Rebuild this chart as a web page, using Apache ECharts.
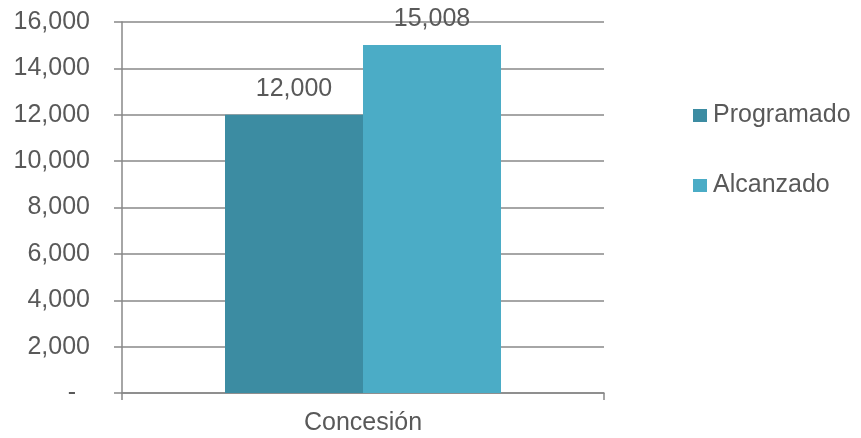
<!DOCTYPE html>
<html><head><meta charset="utf-8">
<script src="https://cdn.jsdelivr.net/npm/echarts@6/dist/echarts.min.js"></script>
<style>html,body{margin:0;padding:0;background:#fff}#c{width:861px;height:438px}</style>
</head><body><div id="c"></div>
<script>
const categories = ['Concesión'];
const programado = [12000];
const alcanzado = [15008];
const seriesNames = ['Programado', 'Alcanzado'];
const yTicks = [0, 2000, 4000, 6000, 8000, 10000, 12000, 14000, 16000];

const fmt = v => v.toLocaleString('en-US');
const FS = 25;
const TXT = '#595959';
const LINE = '#888888';
const chart = echarts.init(document.getElementById('c'));
const labelCfg = {
  show: true, position: 'top', distance: 13,
  fontFamily: 'Liberation Sans, Arial', fontSize: FS, color: TXT,
  formatter: p => fmt(p.value)
};
chart.setOption({
  animation: false,
  textStyle: { fontFamily: 'Liberation Sans, Arial' },
  grid: { left: 122, right: 257, top: 22, bottom: 45, containLabel: false },
  legend: {
    orient: 'vertical', left: 693, top: 103, itemGap: 45, padding: 0,
    itemWidth: 14, itemHeight: 13, icon: 'rect',
    textStyle: { fontSize: FS, color: TXT, padding: [0, 0, 0, 1] },
    data: seriesNames
  },
  xAxis: {
    type: 'category', data: categories,
    axisLine: { lineStyle: { color: LINE, width: 1.5 } },
    axisTick: { show: true, length: 7, lineStyle: { color: LINE, width: 1.5 } },
    axisLabel: { fontSize: FS, color: TXT, margin: 18 }
  },
  yAxis: {
    type: 'value', min: yTicks[0], max: yTicks[yTicks.length - 1], interval: 2000,
    axisLine: { show: true, lineStyle: { color: LINE, width: 1.5 } },
    axisTick: { show: true, length: 8, lineStyle: { color: LINE, width: 1.5 } },
    splitLine: { lineStyle: { color: LINE, width: 1.5 } },
    axisLabel: {
      fontSize: FS, color: TXT, margin: 32,
      formatter: v => v === 0 ? '{d|-}' : fmt(v),
      rich: { d: { fontSize: FS, color: TXT, padding: [0, 14, 0, 0] } }
    }
  },
  series: [
    { name: seriesNames[0], type: 'bar', data: programado, barWidth: 138, barGap: '0%',
      itemStyle: { color: '#3C8CA2' }, label: labelCfg },
    { name: seriesNames[1], type: 'bar', data: alcanzado, barWidth: 138, barGap: '0%',
      itemStyle: { color: '#4BACC6' }, label: labelCfg }
  ]
});
</script></body></html>
